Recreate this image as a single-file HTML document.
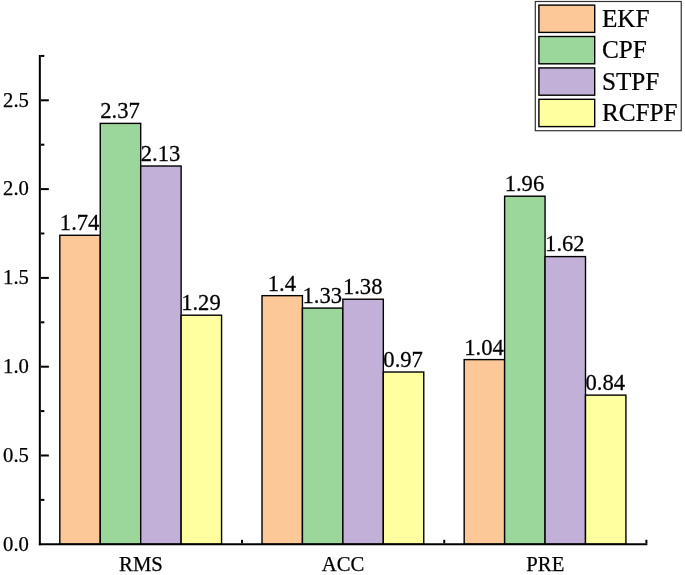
<!DOCTYPE html>
<html><head><meta charset="utf-8"><title>chart</title>
<style>
html,body{margin:0;padding:0;background:#fff;}
svg{display:block;}
text{font-family:"Liberation Serif","Times New Roman",serif;fill:#000;stroke:#000;stroke-width:0.25px;}
.t{font-size:20.7px;}
.b{font-size:22.6px;}
.l{font-size:25.2px;}
</style></head><body>
<svg width="685" height="575" viewBox="0 0 685 575">
<rect width="685" height="575" fill="#fff"/>
<rect x="59.82" y="235.28" width="40.44" height="309.02" fill="#FDC897" stroke="#000" stroke-width="1.4"/>
<text class="b" transform="translate(79.64 230.18) scale(1 1.05)" text-anchor="middle">1.74</text>
<rect x="100.25" y="123.39" width="40.44" height="420.91" fill="#9BD79B" stroke="#000" stroke-width="1.4"/>
<text class="b" transform="translate(120.07 118.29) scale(1 1.05)" text-anchor="middle">2.37</text>
<rect x="140.69" y="166.01" width="40.44" height="378.29" fill="#C2B0D8" stroke="#000" stroke-width="1.4"/>
<text class="b" transform="translate(160.51 160.91) scale(1 1.05)" text-anchor="middle">2.13</text>
<rect x="181.13" y="315.20" width="40.44" height="229.10" fill="#FFFF9F" stroke="#000" stroke-width="1.4"/>
<text class="b" transform="translate(200.95 310.10) scale(1 1.05)" text-anchor="middle">1.29</text>
<rect x="262.00" y="295.66" width="40.44" height="248.64" fill="#FDC897" stroke="#000" stroke-width="1.4"/>
<text class="b" transform="translate(281.82 290.56) scale(1 1.05)" text-anchor="middle">1.4</text>
<rect x="302.44" y="308.09" width="40.44" height="236.21" fill="#9BD79B" stroke="#000" stroke-width="1.4"/>
<text class="b" transform="translate(322.26 302.99) scale(1 1.05)" text-anchor="middle">1.33</text>
<rect x="342.88" y="299.21" width="40.44" height="245.09" fill="#C2B0D8" stroke="#000" stroke-width="1.4"/>
<text class="b" transform="translate(362.69 294.11) scale(1 1.05)" text-anchor="middle">1.38</text>
<rect x="383.31" y="372.03" width="40.44" height="172.27" fill="#FFFF9F" stroke="#000" stroke-width="1.4"/>
<text class="b" transform="translate(403.13 366.93) scale(1 1.05)" text-anchor="middle">0.97</text>
<rect x="464.18" y="359.60" width="40.44" height="184.70" fill="#FDC897" stroke="#000" stroke-width="1.4"/>
<text class="b" transform="translate(484.00 354.50) scale(1 1.05)" text-anchor="middle">1.04</text>
<rect x="504.62" y="196.20" width="40.44" height="348.10" fill="#9BD79B" stroke="#000" stroke-width="1.4"/>
<text class="b" transform="translate(524.44 191.10) scale(1 1.05)" text-anchor="middle">1.96</text>
<rect x="545.06" y="256.59" width="40.44" height="287.71" fill="#C2B0D8" stroke="#000" stroke-width="1.4"/>
<text class="b" transform="translate(564.88 251.49) scale(1 1.05)" text-anchor="middle">1.62</text>
<rect x="585.49" y="395.12" width="40.44" height="149.18" fill="#FFFF9F" stroke="#000" stroke-width="1.4"/>
<text class="b" transform="translate(605.31 390.02) scale(1 1.05)" text-anchor="middle">0.84</text>
<g stroke="#000" stroke-width="2" fill="none" stroke-linecap="butt">
<path d="M39.85 54.90V545.3"/>
<path d="M38.85 544.3H647.4"/>
<path d="M40.85 499.90h3.5"/>
<path d="M40.85 455.50h8"/>
<path d="M40.85 411.10h3.5"/>
<path d="M40.85 366.70h8"/>
<path d="M40.85 322.30h3.5"/>
<path d="M40.85 277.90h8"/>
<path d="M40.85 233.50h3.5"/>
<path d="M40.85 189.10h8"/>
<path d="M40.85 144.70h3.5"/>
<path d="M40.85 100.30h8"/>
<path d="M40.85 55.90h3.5"/>
<path d="M242.03 543.3v-3.5"/>
<path d="M444.22 543.3v-3.5"/>
<path d="M646.40 543.3v-3.5"/>
</g>
<text class="t" x="28.9" y="550.50" text-anchor="end">0.0</text>
<text class="t" x="28.9" y="461.70" text-anchor="end">0.5</text>
<text class="t" x="28.9" y="372.90" text-anchor="end">1.0</text>
<text class="t" x="28.9" y="284.10" text-anchor="end">1.5</text>
<text class="t" x="28.9" y="195.30" text-anchor="end">2.0</text>
<text class="t" x="28.9" y="106.50" text-anchor="end">2.5</text>
<text class="t" x="140.94" y="570.6" text-anchor="middle">RMS</text>
<text class="t" x="343.12" y="570.6" text-anchor="middle">ACC</text>
<text class="t" x="545.31" y="570.6" text-anchor="middle">PRE</text>
<rect x="535.3" y="1.5" width="145.95" height="129.2" fill="#fff" stroke="#333" stroke-width="1.2"/>
<rect x="538.9" y="5.10" width="55.8" height="27.3" fill="#FDC897" stroke="#000" stroke-width="1.4"/>
<text class="l" transform="translate(601.9 27.00) scale(1 0.985)">EKF</text>
<rect x="538.9" y="36.50" width="55.8" height="27.3" fill="#9BD79B" stroke="#000" stroke-width="1.4"/>
<text class="l" transform="translate(601.9 58.40) scale(1 0.985)">CPF</text>
<rect x="538.9" y="67.90" width="55.8" height="27.3" fill="#C2B0D8" stroke="#000" stroke-width="1.4"/>
<text class="l" transform="translate(601.9 89.80) scale(1 0.985)">STPF</text>
<rect x="538.9" y="99.30" width="55.8" height="27.3" fill="#FFFF9F" stroke="#000" stroke-width="1.4"/>
<text class="l" transform="translate(601.9 121.20) scale(1 0.985)">RCFPF</text>
</svg>
</body></html>
